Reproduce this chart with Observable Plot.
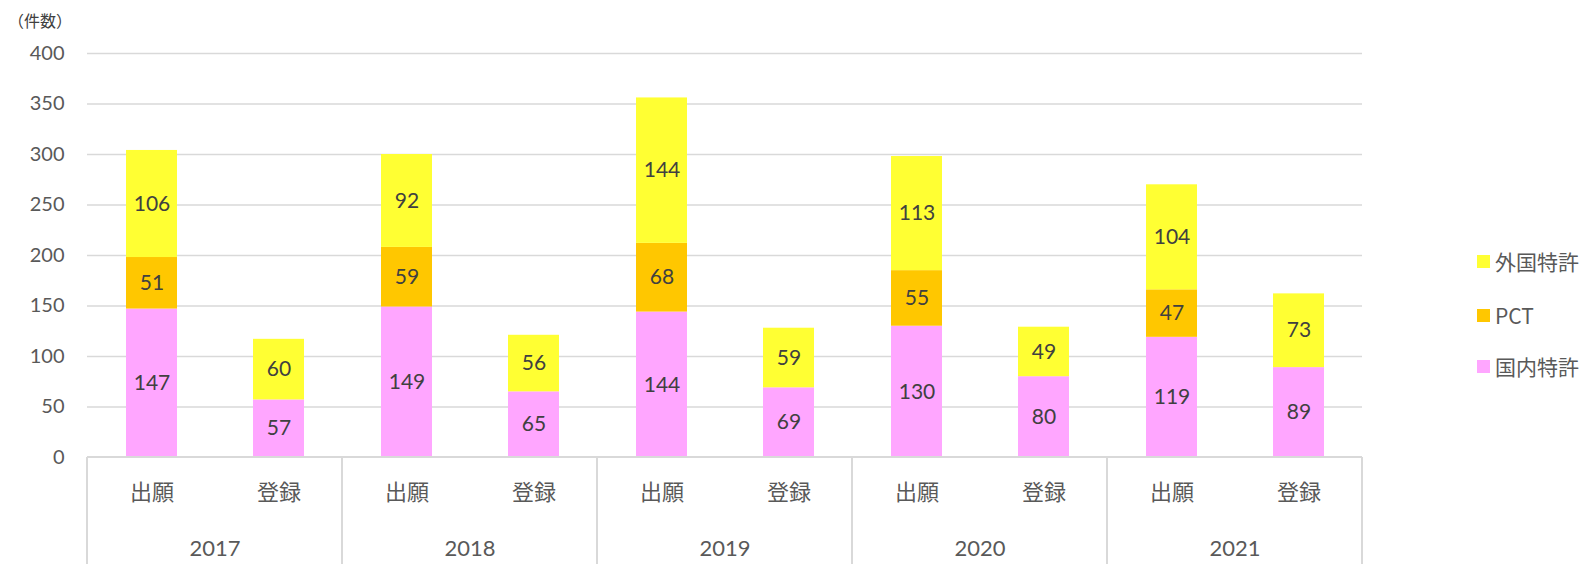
<!DOCTYPE html>
<html>
<head>
<meta charset="utf-8">
<script src="https://cdn.jsdelivr.net/npm/d3@7"></script>
<script src="https://cdn.jsdelivr.net/npm/@observablehq/plot@0.6"></script>
<style>
  body { margin: 0; background: #fff; }
  #wrap { position: relative; width: 1593px; height: 564px; overflow: hidden; font-family: Lato, "Noto Sans CJK JP", sans-serif; }
  #unit { position: absolute; left: 8px; top: 8px; font-size: 16px; color: #404040; font-family: "Noto Sans CJK JP", sans-serif; }
  #legend { position: absolute; left: 1477px; top: 0; font-size: 21px; color: #595959; font-family: "Noto Sans CJK JP", sans-serif; }
  .item { position: absolute; white-space: nowrap; display: flex; align-items: center; height: 30px; }
  .sw { width: 13px; height: 13px; margin-right: 5px; }
</style>
</head>
<body>
<div id="wrap">
  <div id="unit">（件数）</div>
  <div id="legend"></div>
</div>
<script>
const years = ["2017", "2018", "2019", "2020", "2021"];
const kinds = ["出願", "登録"];
const seriesNames = ["国内特許", "PCT", "外国特許"];
const colors = ["#FFA6FF", "#FFC700", "#FFFF33"];
// values in order: 2017 出願, 2017 登録, 2018 出願, ...
const domestic = [147, 57, 149, 65, 144, 69, 130, 80, 119, 89];
const pct      = [51, 0, 59, 0, 68, 0, 55, 0, 47, 0];
const foreign  = [106, 60, 92, 56, 144, 59, 113, 49, 104, 73];
const yTicks = [0, 50, 100, 150, 200, 250, 300, 350, 400];

const seriesValues = [domestic, pct, foreign];
const rows = [];
years.forEach((year, yi) => {
  kinds.forEach((kind, ki) => {
    const i = yi * 2 + ki;
    seriesNames.forEach((s, si) => {
      const v = seriesValues[si][i];
      if (v > 0) rows.push({year, kind, series: s, value: v});
    });
  });
});

const plot = Plot.plot({
  width: 1593,
  height: 564,
  marginLeft: 87,
  marginRight: 231,
  marginTop: 53,
  marginBottom: 107,
  style: {fontSize: "20px", fontFamily: 'Lato, "Noto Sans CJK JP", sans-serif', color: "#595959", background: "transparent"},
  fx: {domain: years, padding: 0, label: null, axis: null},
  x: {domain: kinds, paddingInner: 0.6, paddingOuter: 0.3, label: null, axis: null},
  y: {domain: [0, 400], ticks: yTicks, label: null, axis: null},
  color: {domain: seriesNames, range: colors},
  marks: [
    Plot.gridY(yTicks.filter(d => d > 0), {stroke: "#d9d9d9", strokeOpacity: 1, strokeWidth: 1.5}),
    Plot.barY(rows, {fx: "year", x: "kind", y: "value", fill: "series", order: null}),
    Plot.text(rows, Plot.stackY({fx: "year", x: "kind", y: "value", z: "series", order: null, text: "value", fill: "#404040", fontSize: 21})),
    Plot.axisY(yTicks, {tickSize: 0, tickPadding: 23, label: null, fill: "#595959", fontSize: 20}),
    Plot.axisX({anchor: "bottom", tickSize: 0, tickPadding: 27, label: null, fill: "#595959", fontSize: 22, fontFamily: '"Noto Sans CJK JP", sans-serif'}),
    Plot.axisFx({anchor: "bottom", tickSize: 0, tickPadding: 83, label: null, fill: "#595959", fontSize: 22})
  ]
});

// category box lines built from the library's scales
const fx = plot.scale("fx");
const ys = plot.scale("y");
const y0 = ys.apply(0);
const svg = d3.select(plot);
const left = fx.apply(years[0]);
const right = fx.apply(years[years.length - 1]) + fx.bandwidth;
const g = svg.append("g").attr("stroke", "#d9d9d9").attr("stroke-width", 2);
g.append("line").attr("x1", left).attr("x2", right).attr("y1", y0).attr("y2", y0);
const bounds = years.map(y => fx.apply(y)).concat([right]);
bounds.forEach(b => {
  g.append("line").attr("x1", b).attr("x2", b).attr("y1", y0).attr("y2", 564);
});

plot.style.position = "absolute";
plot.style.left = "0";
plot.style.top = "0";
document.getElementById("wrap").prepend(plot);

// legend
const legend = document.getElementById("legend");
const legendOrder = ["外国特許", "PCT", "国内特許"];
const legendCenters = [261, 315, 366];
legendOrder.forEach((name, i) => {
  const item = document.createElement("div");
  item.className = "item";
  item.style.top = (legendCenters[i] - 15) + "px";
  item.style.left = "0px";
  const sw = document.createElement("div");
  sw.className = "sw";
  sw.style.background = colors[seriesNames.indexOf(name)];
  const t = document.createElement("span");
  t.textContent = name;
  item.appendChild(sw);
  item.appendChild(t);
  legend.appendChild(item);
});
</script>
</body>
</html>
